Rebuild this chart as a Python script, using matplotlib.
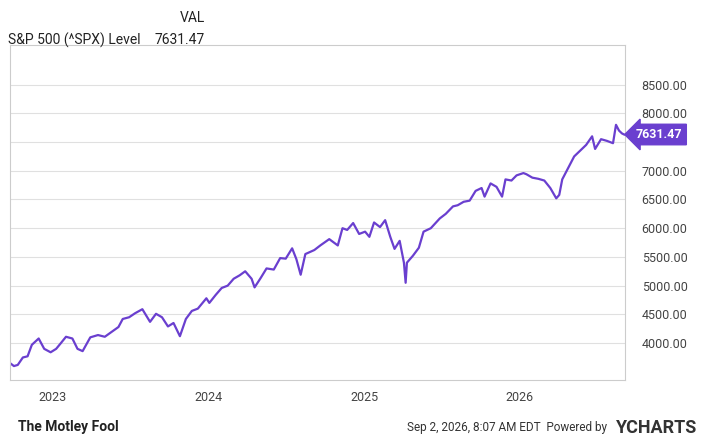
import matplotlib
matplotlib.use("Agg")
import matplotlib.pyplot as plt
import matplotlib.dates as mdates
import pandas as pd

dates = ["2022-09-26","2022-10-03","2022-10-12","2022-10-24","2022-11-04","2022-11-14","2022-11-30","2022-12-13","2022-12-28",
"2023-01-10","2023-01-20","2023-02-02","2023-02-17","2023-03-01","2023-03-13","2023-03-31","2023-04-18","2023-05-04","2023-05-19",
"2023-06-05","2023-06-15","2023-06-30","2023-07-14","2023-07-31","2023-08-18","2023-09-01","2023-09-15","2023-09-29","2023-10-12","2023-10-27",
"2023-11-10","2023-11-24","2023-12-08","2023-12-28","2024-01-04","2024-01-19","2024-02-02","2024-02-16","2024-03-01","2024-03-15","2024-03-28",
"2024-04-12","2024-04-19","2024-05-03","2024-05-17","2024-06-03","2024-06-18","2024-07-01","2024-07-16","2024-07-26","2024-08-05","2024-08-16",
"2024-09-06","2024-09-20","2024-10-11","2024-10-31","2024-11-11","2024-11-22","2024-12-06","2024-12-20","2025-01-03","2025-01-13","2025-01-24",
"2025-02-07","2025-02-19","2025-03-03","2025-03-13","2025-03-25","2025-04-04","2025-04-08","2025-04-11","2025-04-25","2025-05-09","2025-05-20",
"2025-06-06","2025-06-27","2025-07-11","2025-07-28","2025-08-08","2025-08-22","2025-09-05","2025-09-19","2025-10-03","2025-10-10","2025-10-24",
"2025-11-07","2025-11-20","2025-11-28","2025-12-12","2025-12-24","2026-01-09","2026-01-16","2026-01-30","2026-02-13","2026-02-27","2026-03-13",
"2026-03-27","2026-04-03","2026-04-10","2026-04-24","2026-05-08","2026-05-22","2026-06-05","2026-06-19","2026-06-26","2026-07-10","2026-07-24",
"2026-08-07","2026-08-14","2026-08-21","2026-08-28","2026-09-02"]
values = [3640,3600,3620,3750,3770,3970,4080,3900,3840,3900,3990,4110,4080,3900,3860,4100,4140,4110,4190,4280,4420,4450,4520,4590,4370,4510,4450,4290,4350,4120,
4420,4560,4600,4780,4700,4840,4960,5000,5120,5180,5250,5120,4970,5130,5300,5280,5480,5470,5650,5460,5190,5550,5620,5700,5810,5700,6000,5970,6090,5900,
5940,5850,6100,6020,6140,5850,5640,5780,5400,5050,5400,5520,5660,5940,6000,6170,6250,6380,6400,6460,6480,6650,6700,6550,6780,6720,6550,6850,6830,6920,
6960,6940,6880,6860,6830,6700,6520,6580,6850,7050,7250,7350,7450,7600,7380,7550,7520,7480,7800,7700,7650,7631.47]
yticks = [4000,4500,5000,5500,6000,6500,7000,7500,8000,8500]
ytick_labels = ["4000.00","4500.00","5000.00","5500.00","6000.00","6500.00","7000.00","","8000.00","8500.00"]

x = pd.to_datetime(dates)
plt.rcParams['font.family'] = ['Roboto', 'DejaVu Sans']
fig = plt.figure(figsize=(7.2, 4.41), dpi=100)
ax = fig.add_axes([0.014, 0.138, 0.854, 0.76])
purple = "#6a3fcf"
ax.plot(x, values, color=purple, lw=1.6)
ax.set_xlim(pd.Timestamp("2022-09-24"), pd.Timestamp("2026-09-04"))
ax.set_ylim(3355, 9190)
ax.set_yticks(yticks)
ax.set_yticklabels(ytick_labels)
ax.yaxis.tick_right()
ax.tick_params(axis='y', length=0, labelsize=9, colors="#444444", pad=12)
ax.tick_params(axis='x', length=0, labelsize=9, colors="#444444", pad=8)
ax.set_xticks(pd.to_datetime(["2023-01-01","2024-01-01","2025-01-01","2026-01-01"]))
ax.xaxis.set_major_formatter(mdates.DateFormatter("%Y"))
ax.grid(axis='y', color="#e0e0e0", lw=0.8)
for s in ax.spines.values():
    s.set_color("#cccccc"); s.set_linewidth(0.8)
ax.annotate(f"{values[-1]:.2f}", xy=(1.0, values[-1]), xycoords=('axes fraction','data'),
            xytext=(8, 0), textcoords='offset points', va='center', ha='left', color='white',
            fontsize=9, fontweight='bold', zorder=10,
            bbox=dict(boxstyle="larrow,pad=0.3", fc=purple, ec=purple))
fig.text(0.25, 0.95, "VAL", fontsize=10, color="#222222")
fig.text(0.011, 0.9, "S&P 500 (^SPX) Level", fontsize=10, color="#222222")
fig.text(0.215, 0.9, "7631.47", fontsize=10, color="#222222")
fig.text(0.025, 0.022, "The Motley Fool", fontsize=10, fontweight='bold', color="#222222")
fig.text(0.565, 0.022, "Sep 2, 2026, 8:07 AM EDT  Powered by", fontsize=8.5, color="#333333")
fig.text(0.855, 0.018, "YCHARTS", fontsize=13, fontweight='bold', color="#333333")
fig.savefig("out.png", dpi=100)
